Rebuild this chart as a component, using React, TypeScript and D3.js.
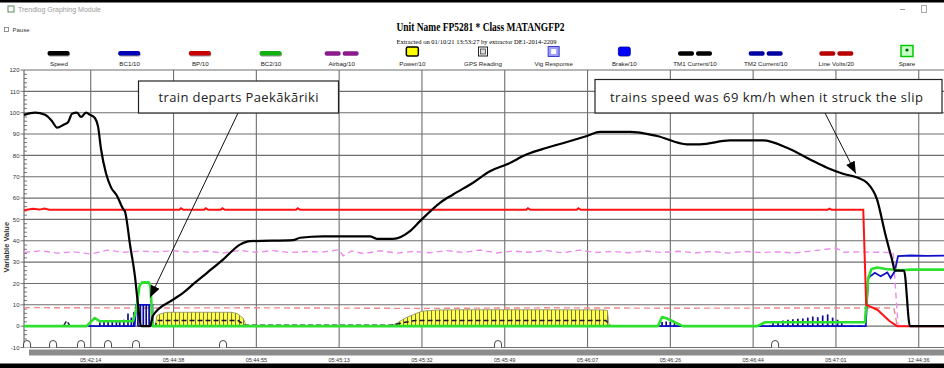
import React from "react";
import * as d3 from "d3";

type P = [number, number];

// ---------- data (x in tick-index units: 0 = first labelled tick) ----------
const tickLabels = ["05:42:14", "05:44:38", "05:44:55", "05:45:13", "05:45:32", "05:45:49", "05:46:07", "05:46:26", "05:46:44", "05:47:01", "12:44:36"];
const yTickValues = [120, 110, 100, 90, 80, 70, 60, 50, 40, 30, 20, 10, 0, -10];

const legendNames = ["Speed", "BC1/10", "BP/10", "BC2/10", "Airbag/10", "Power/10", "GPS Reading", "Vig Response", "Brake/10", "TM1 Current/10", "TM2 Current/10", "Line Volts/20", "Spare"];
const legendKinds = ["line", "line", "line", "line", "dash", "power", "gps", "vig", "brake", "dash", "dash", "dash", "spare"];
const legendColors = ["#000000", "#0000b4", "#c80000", "#10b010", "#8b1a8b", "#ffff00", "#ffffff", "#6a6aff", "#0000ff", "#000000", "#0000a0", "#b80000", "#00c800"];

const speed: P[] = [
  [-0.806, 99], [-0.673, 100], [-0.552, 99], [-0.467, 96], [-0.407, 93], [-0.322, 94.5], [-0.274, 95.5],
  [-0.226, 99.5], [-0.165, 100], [-0.117, 98], [-0.057, 100], [-0.008, 99], [0.052, 97.4], [0.088, 93.6],
  [0.124, 83], [0.185, 71.5], [0.245, 65], [0.318, 61], [0.39, 55], [0.414, 53.7], [0.475, 38], [0.535, 23],
  [0.571, 10], [0.607, 0], [0.716, 0], [0.752, 5], [0.994, 12.4], [1.115, 15.6], [1.248, 20], [1.405, 25],
  [1.598, 31.2], [1.803, 38.2], [1.924, 39.8], [2.443, 40.3], [2.528, 41.4], [2.806, 42.1], [3.373, 42.1],
  [3.454, 40.9], [3.651, 40.9], [3.856, 44.5], [3.977, 49.2], [4.218, 57.8], [4.376, 61.7], [4.617, 67.2],
  [4.822, 72.6], [5.027, 75.8], [5.268, 80.5], [5.51, 83.6], [5.751, 86.3], [5.993, 89.1], [6.15, 91],
  [6.513, 91], [6.839, 89.1], [7.201, 85.2], [7.358, 85.2], [7.72, 87], [8.119, 87], [8.409, 83.6],
  [8.687, 78.1], [8.892, 74.2], [9.085, 71.4], [9.266, 69.5], [9.375, 67.2], [9.496, 59.4], [9.592, 43.8],
  [9.677, 31.2], [9.713, 26], [9.822, 26], [9.894, 0], [10.305, 0],
];

const bp: P[] = [
  [-0.806, 54.3], [-0.7, 55.0], [-0.62, 54.6], [-0.56, 55.1], [-0.5, 54.5], [1.07, 54.5], [1.09, 55.2], [1.12, 54.5],
  [1.37, 54.5], [1.39, 55.2], [1.42, 54.5], [1.57, 54.5], [1.59, 55.2], [1.62, 54.5], [2.48, 54.5], [2.5, 55.2],
  [2.53, 54.5], [5.26, 54.5], [5.28, 55.2], [5.31, 54.5], [5.87, 54.5], [5.89, 55.2], [5.92, 54.5], [8.9, 54.5],
  [8.92, 55.0], [8.95, 54.5], [9.33, 54.5], [9.365, 10], [9.5, 7.7], [9.65, 2.3], [9.74, 0], [10.305, 0],
];

const airbag: P[] = [
  [-0.806, 34.5], [-0.6, 35.3], [-0.4, 34.2], [-0.2, 34.8], [0, 33.8], [0.2, 35.6], [0.4, 34.6], [0.6, 35.2],
  [0.8, 34.8], [1.0, 35.3], [1.2, 34.6], [1.4, 35.2], [1.6, 34.3], [1.8, 35.5], [2.0, 34.6], [2.2, 35.4],
  [2.4, 34.5], [2.6, 35.0], [2.8, 34.7], [3.0, 35.8], [3.05, 33.0], [3.15, 35.2], [3.3, 34.0], [3.5, 35.3],
  [3.7, 34.2], [3.9, 35.0], [4.1, 34.4], [4.3, 35.4], [4.5, 34.5], [4.7, 35.7], [4.9, 34.3], [5.1, 35.2],
  [5.3, 34.6], [5.5, 35.4], [5.7, 34.4], [5.9, 35.6], [6.1, 34.5], [6.3, 35.0], [6.5, 34.4], [6.7, 35.2],
  [6.9, 34.5], [7.1, 35.1], [7.3, 34.3], [7.5, 35.0], [7.7, 34.2], [7.9, 35.0], [8.1, 34.5], [8.3, 34.8],
  [8.5, 34.3], [8.7, 35.2], [9.0, 36.6], [9.1, 34.6], [9.3, 34.8], [9.5, 34.6], [9.69, 34.5], [9.75, 0], [10.305, 0],
];

const lineVolts: P[] = [
  [-0.806, 8.7], [0.5, 8.5], [2.0, 8.6], [4.0, 8.3], [5.5, 8.6], [7.0, 8.4], [8.5, 8.5], [9.7, 8.5], [9.74, 0], [10.305, 0],
];

const bc2: P[] = [
  [-0.806, 0], [-0.05, 0], [0.0, 2.0], [0.05, 3.8], [0.11, 2.3], [0.51, 2.3], [0.55, 8], [0.59, 19], [0.62, 20.5],
  [0.7, 20.5], [0.72, 19], [0.75, 0], [6.85, 0], [6.9, 4.3], [6.96, 3.6], [7.03, 2.3], [7.15, 0], [8.05, 0],
  [8.14, 1.8], [9.35, 1.8], [9.39, 22.6], [9.43, 26.8], [9.5, 27.5], [9.6, 26.8], [9.78, 26.2], [9.9, 26.5], [10.305, 26.5],
];

const bc1: P[] = [
  [-0.806, 0], [0.53, 0], [0.55, 10], [0.745, 10], [0.75, 0], [9.36, 0], [9.39, 22.6], [9.47, 25],
  [9.54, 23.4], [9.62, 25.2], [9.66, 22.6], [9.71, 25.7], [9.75, 32.8], [9.9, 33.1], [10.1, 32.9], [10.305, 33.0],
];

const bc1Bars: P[] = [
  [0.11, 1.8], [0.16, 2.0], [0.21, 2.2], [0.26, 2.0], [0.31, 2.4], [0.35, 2.6], [0.4, 3.0], [0.45, 5.9], [0.49, 4.0],
  [0.52, 6.5], [0.57, 10], [0.6, 10], [0.635, 10], [0.67, 10], [0.705, 10], [0.735, 10],
  [6.9, 2.0], [6.95, 2.2], [7.0, 2.0], [7.05, 1.8],
  [8.24, 2.0], [8.3, 2.4], [8.36, 2.6], [8.42, 3.0], [8.48, 3.2], [8.54, 3.5], [8.6, 3.6], [8.66, 4.0], [8.72, 4.5],
  [8.78, 4.2], [8.84, 5.0], [8.9, 5.5], [8.96, 4.0], [9.02, 3.0], [9.07, 1.5],
];

const powerA: P[] = [[0.78, 0], [0.8, 5.0], [0.86, 6.0], [0.92, 6.5], [1.7, 6.5], [1.77, 5.9], [1.84, 3.8], [1.88, 0]];
const powerB: P[] = [[3.62, 0], [3.7, 1.5], [3.8, 3.8], [3.92, 5.8], [4.0, 7.0], [4.2, 7.6], [4.6, 7.7], [5.4, 7.7], [6.2, 7.6], [6.24, 7.3], [6.26, 0]];

const tm1: P[] = [
  [-0.806, 0], [-0.33, 0], [-0.29, 2.6], [-0.25, 0], [0.78, 0], [0.8, 2.6], [1.78, 2.6], [1.86, 0.4], [3.62, 0.4],
  [3.8, 1.8], [3.92, 2.7], [6.22, 2.7], [6.28, 0], [9.36, 0],
];

const gpsMarks = [-0.769, -0.455, -0.117, 0.209, 0.547, 1.598, 4.919, 8.265];

const note1 = "train departs Paekākāriki";
const note2 = "trains speed was 69 km/h when it struck the slip";
const note1Target: P = [0.716, 13.4];
const note2Target: P = [9.24, 71.5];

const SANS = "'Liberation Sans', Arial, sans-serif";
const NOTE = "'Open Sans', 'Noto Sans', sans-serif";

export default function App() {
  const x = d3.scaleLinear().domain([-0.806, 10.305]).range([24, 944]);
  const y = d3.scaleLinear().domain([-10, 120]).range([347.5, 70]);
  const line = d3.line<P>().x((d) => x(d[0])).y((d) => y(d[1]));
  const smooth = d3.line<P>().x((d) => x(d[0])).y((d) => y(d[1])).curve(d3.curveMonotoneX);
  const area = d3.area<P>().x((d) => x(d[0])).y0(y(0)).y1((d) => y(d[1]));
  const lg = d3.scaleLinear().domain([0, 12]).range([59, 907]);
  const minor = d3.range(-10, 121, 2);
  const xTicks = tickLabels.map((_, i) => i);

  const legendSwatch = (kind: string, cx: number, color: string) => {
    if (kind === "line")
      return (
        <g>
          <rect x={cx - 11} y={52} width={22} height={4.5} rx={2} fill="#333" opacity={0.5} />
          <rect x={cx - 11.5} y={51} width={22} height={4.5} rx={2} fill={color} />
        </g>
      );
    if (kind === "dash")
      return (
        <g>
          <rect x={cx - 17} y={51.2} width={16} height={4.5} rx={2} fill={color} />
          <rect x={cx + 1} y={51.2} width={16} height={4.5} rx={2} fill={color} />
        </g>
      );
    if (kind === "power")
      return <rect x={cx - 6} y={47} width={12} height={9} rx={1.5} fill="#ffff00" stroke="#000" strokeWidth={1.5} />;
    if (kind === "gps")
      return (
        <g>
          <rect x={cx - 4.5} y={47} width={9} height={9} fill="#fff" stroke="#222" strokeWidth={1} />
          <rect x={cx - 2.5} y={49} width={5} height={5} fill="#ddd" stroke="#444" strokeWidth={0.8} />
        </g>
      );
    if (kind === "vig")
      return (
        <g>
          <rect x={cx - 5.5} y={46.5} width={11} height={10} fill="#9a9aff" stroke="#4040d0" strokeWidth={1} />
          <rect x={cx - 2.5} y={49} width={5} height={5} fill="#fff" />
        </g>
      );
    if (kind === "brake")
      return <rect x={cx - 6} y={47} width={12} height={9} rx={2} fill={color} stroke="#00008a" strokeWidth={0.8} />;
    return (
      <g>
        <rect x={cx - 6} y={45.5} width={12} height={11} fill="#c8ffc8" stroke={color} strokeWidth={1.5} />
        <circle cx={cx} cy={50} r={1.6} fill="#006000" />
      </g>
    );
  };

  const arch = (t: number) => {
    const cx = x(t);
    const b = y(-10);
    return `M${cx - 3.5},${b} L${cx - 3.5},${b - 3.5} A3.5,3.5 0 0 1 ${cx + 3.5},${b - 3.5} L${cx + 3.5},${b}`;
  };

  return (
    <svg width={944} height={368} style={{ position: "fixed", left: 0, top: 0, display: "block" }}>
      <defs>
        <pattern id="pw" patternUnits="userSpaceOnUse" width={4} height={10}>
          <rect x={0} y={0} width={4} height={10} fill="#ffff46" />
          <rect x={3} y={0} width={1} height={10} fill="#75755a" />
        </pattern>
        <marker id="ah" viewBox="0 0 10 8" refX={10} refY={4} markerWidth={12} markerHeight={10} markerUnits="userSpaceOnUse" orient="auto">
          <path d="M0,0 L10,4 L0,8 z" fill="#000" />
        </marker>
      </defs>
      <rect x={0} y={0} width={944} height={368} fill="#fff" />

      {/* window chrome */}
      <rect x={8} y={6} width={6} height={6} fill="#fff" stroke="#5a8a5a" strokeWidth={1} />
      <text x={18} y={12} fontFamily={SANS} fontSize={7} fill="#9a9a9a">Trendlog Graphing Module</text>
      <rect x={4.5} y={27.5} width={4} height={4} fill="#fff" stroke="#777" strokeWidth={0.8} />
      <text x={12.5} y={32} fontFamily={SANS} fontSize={6} fill="#333">Pause</text>
      <line x1={900} y1={9.5} x2={905} y2={9.5} stroke="#999" strokeWidth={1} />
      <rect x={921.5} y={5.5} width={5} height={7} fill="none" stroke="#aaa" strokeWidth={1} />

      {/* titles */}
      <text x={480.5} y={31} textAnchor="middle" fontFamily="'Liberation Serif', 'Times New Roman', serif" fontWeight="bold" fontSize={12} textLength={168} lengthAdjust="spacingAndGlyphs">Unit Name FP5281  * Class  MATANGFP2</text>
      <text x={476.5} y={43.5} textAnchor="middle" fontFamily="'Liberation Serif', 'Times New Roman', serif" fontSize={6.5} textLength={160} lengthAdjust="spacingAndGlyphs">Extracted on 01/10/21 13:53:27 by extractor DE1-2014-2209</text>

      {/* legend */}
      {legendNames.map((n, i) => (
        <g key={n}>
          {legendSwatch(legendKinds[i], lg(i), legendColors[i])}
          <text x={lg(i)} y={65.5} textAnchor="middle" fontFamily={SANS} fontSize={6.2} fill="#222">{n}</text>
        </g>
      ))}

      {/* grid */}
      {yTickValues.map((v) => (
        <line key={"h" + v} x1={24} x2={944} y1={y(v)} y2={y(v)} stroke="#6e6e6e" strokeWidth={1.1} />
      ))}
      {xTicks.map((t) => (
        <line key={"v" + t} x1={x(t)} x2={x(t)} y1={y(120)} y2={y(-10)} stroke="#6e6e6e" strokeWidth={1.1} />
      ))}
      <line x1={24} x2={24} y1={y(120)} y2={y(-10)} stroke="#555" strokeWidth={1} />
      {minor.map((v) => (
        <line key={"m" + v} x1={24} x2={v % 10 === 0 ? 20.5 : 27} y1={y(v)} y2={y(v)} stroke="#555" strokeWidth={0.8} />
      ))}
      {yTickValues.map((v) => (
        <text key={"yl" + v} x={19.5} y={y(v) + 2.2} textAnchor="end" fontFamily={SANS} fontSize={6} fill="#333">{v}</text>
      ))}
      <text transform={`translate(9,${y(37)}) rotate(-90)`} textAnchor="middle" fontFamily={SANS} fontWeight="bold" fontSize={7.5} fill="#333">Variable Value</text>

      {/* series */}
      <path d={line(lineVolts) || ""} fill="none" stroke="#f08c8c" strokeWidth={1.4} strokeDasharray="6,4" />
      <path d={line(airbag) || ""} fill="none" stroke="#ec8cec" strokeWidth={1.4} strokeDasharray="6,4" />
      <path d={area(powerA) || ""} fill="url(#pw)" stroke="#8c8c5a" strokeWidth={0.8} />
      <path d={area(powerB) || ""} fill="url(#pw)" stroke="#8c8c5a" strokeWidth={0.8} />
      {bc1Bars.map((d, i) => (
        <line key={"b" + i} x1={x(d[0])} x2={x(d[0])} y1={y(0)} y2={y(d[1])} stroke="#0a0a96" strokeWidth={1.7} />
      ))}
      <path d={line(tm1) || ""} fill="none" stroke="#1a1a3a" strokeWidth={1.5} strokeDasharray="5,3" />
      <path d={line(bc1) || ""} fill="none" stroke="#1010c8" strokeWidth={1.8} />
      <path d={line(bc2) || ""} fill="none" stroke="#2ee02e" strokeWidth={2.6} strokeLinejoin="round" />
      <path d={line(bp) || ""} fill="none" stroke="#ff1414" strokeWidth={2} />
      <path d={smooth(speed) || ""} fill="none" stroke="#000" strokeWidth={2.2} strokeLinejoin="round" />

      {/* GPS markers */}
      {gpsMarks.map((t, i) => (
        <path key={"g" + i} d={arch(t)} fill="#fff" stroke="#333" strokeWidth={0.9} />
      ))}

      {/* bottom time bar */}
      <rect x={29} y={349.5} width={915} height={6} fill="#8c8c8c" />
      {xTicks.map((t) => (
        <text key={"xl" + t} x={x(t)} y={361.5} textAnchor="middle" fontFamily={SANS} fontSize={5.5} fill="#333">{tickLabels[t]}</text>
      ))}

      {/* annotations */}
      <line x1={238} y1={113} x2={x(note1Target[0])} y2={y(note1Target[1])} stroke="#111" strokeWidth={1} markerEnd="url(#ah)" />
      <rect x={138.5} y={81} width={200} height={32} fill="#fff" stroke="#222" strokeWidth={1.2} />
      <text x={238.5} y={102} textAnchor="middle" fontFamily={NOTE} fontSize={13} fill="#222" textLength={160}>{note1}</text>

      <line x1={825} y1={113} x2={x(note2Target[0])} y2={y(note2Target[1])} stroke="#111" strokeWidth={1} markerEnd="url(#ah)" />
      <rect x={595} y={79.5} width={347} height={33.5} fill="#fff" stroke="#222" strokeWidth={1.2} />
      <text x={766.5} y={101.5} textAnchor="middle" fontFamily={NOTE} fontSize={13} fill="#222" textLength={313}>{note2}</text>

      {/* frame */}
      <rect x={0} y={0} width={944} height={2.5} fill="#000" />
      <rect x={0} y={363.5} width={944} height={4.5} fill="#000" />
    </svg>
  );
}
